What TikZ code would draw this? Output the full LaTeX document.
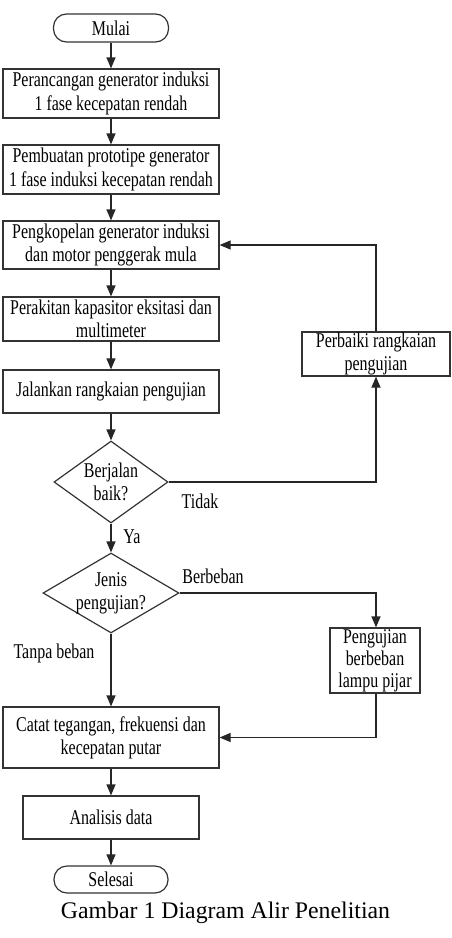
\documentclass[tikz,border=0pt]{standalone}
\usepackage{fontspec}
\setmainfont{Liberation Serif}
\newfontfamily\boxfont[FakeStretch=0.76]{Liberation Serif}
\usetikzlibrary{shapes.geometric,arrows.meta}
\begin{document}
\begin{tikzpicture}[x=1pt,y=-1pt,
  every node/.style={font=\boxfont\fontsize{21}{23.3}\selectfont, text=black},
  proc/.style={draw=black!80, line width=1.2pt, rectangle, align=center, inner sep=0pt},
  term/.style={proc, rounded corners=13pt},
  dec/.style={draw=black!80, line width=1.2pt, diamond, align=center, inner sep=0pt},
  arr/.style={draw=black!85, line width=1.2pt, -{Triangle[width=9pt,length=11pt]}},
  lab/.style={inner sep=0pt}
]
\useasboundingbox (0,0) rectangle (451,938);

\node[term, minimum width=115pt, minimum height=28pt] (mulai) at (111,28) {Mulai};
\node[proc, minimum width=216pt, minimum height=49pt] (b1) at (111,93.5) {Perancangan generator induksi\\1 fase kecepatan rendah};
\node[proc, minimum width=216pt, minimum height=49pt] (b2) at (111,169.5) {Pembuatan prototipe generator\\1 fase induksi kecepatan rendah};
\node[proc, minimum width=216pt, minimum height=48pt] (b3) at (111,245) {Pengkopelan generator induksi\\dan motor penggerak mula};
\node[proc, minimum width=216pt, minimum height=44pt] (b4) at (111,319) {Perakitan kapasitor eksitasi dan\\multimeter};
\node[proc, minimum width=216pt, minimum height=43pt] (b5) at (111,391.5) {Jalankan rangkaian pengujian};
\node[dec, shape aspect=1.39, minimum width=114pt, minimum height=82pt] (d1) at (111,482) {Berjalan\\baik?};
\node[dec, shape aspect=1.7, inner sep=-3pt, minimum width=136pt, minimum height=80pt] (d2) at (111,593) {Jenis\\pengujian?};
\node[proc, minimum width=148pt, minimum height=44pt] (perb) at (376,354) {Perbaiki rangkaian\\pengujian};
\node[proc, minimum width=90pt, minimum height=65pt, font=\boxfont\fontsize{21}{22.2}\selectfont] (peng) at (375,660.5) {Pengujian\\berbeban\\lampu pijar};
\node[proc, minimum width=216pt, minimum height=61pt] (catat) at (111,737.5) {Catat tegangan, frekuensi dan\\kecepatan putar};
\node[proc, minimum width=176pt, minimum height=43pt] (anal) at (111,817.5) {Analisis data};
\node[term, minimum width=114pt, minimum height=27pt] (sel) at (111,879.5) {Selesai};

\node[lab] (tidak) at (200,501) {Tidak};
\node[lab] (ya) at (132,537) {Ya};
\node[lab] (berb) at (213,576) {Berbeban};
\node[lab] (tanpa) at (54,653) {Tanpa beban};

\node[inner sep=0pt, anchor=base, font=\fontsize{23.8}{26}\selectfont] (cap) at (225.5,918) {Gambar 1 Diagram Alir Penelitian};

\draw[arr] (mulai) -- (b1);
\draw[arr] (b1) -- (b2);
\draw[arr] (b2) -- (b3);
\draw[arr] (b3) -- (b4);
\draw[arr] (b4) -- (b5);
\draw[arr] (b5) -- (d1);
\draw[arr] (d1) -- (d2);
\draw[arr] (d2) -- (catat);
\draw[arr] (catat) -- (anal);
\draw[arr] (anal) -- (sel);
\draw[arr] (d1.east) -| (perb.south);
\draw[arr] (perb.north) |- (b3.east);
\draw[arr] (d2.east) -| ([xshift=1pt]peng.north);
\draw[arr] ([xshift=1pt]peng.south) |- (catat.east);
\end{tikzpicture}
\end{document}
